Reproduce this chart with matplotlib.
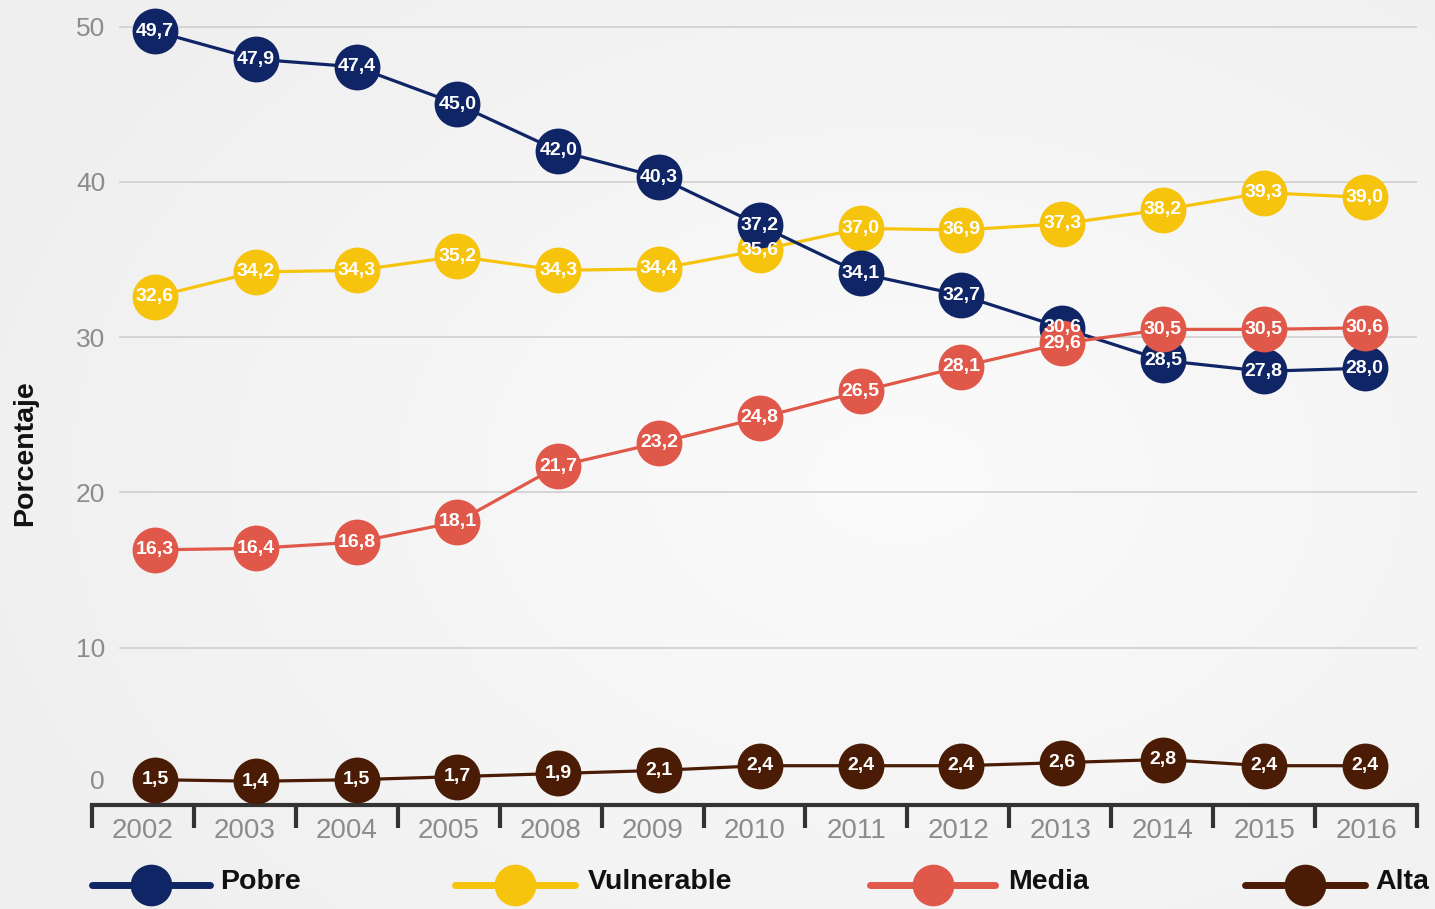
import numpy as np
import matplotlib
matplotlib.use('Agg')
import matplotlib.pyplot as plt
from matplotlib.lines import Line2D
from matplotlib.colors import LinearSegmentedColormap

# Data
years = ['2002', '2003', '2004', '2005', '2008', '2009', '2010',
         '2011', '2012', '2013', '2014', '2015', '2016']
pobre = [49.7, 47.9, 47.4, 45.0, 42.0, 40.3, 37.2, 34.1, 32.7, 30.6, 28.5, 27.8, 28.0]
vulnerable = [32.6, 34.2, 34.3, 35.2, 34.3, 34.4, 35.6, 37.0, 36.9, 37.3, 38.2, 39.3, 39.0]
media = [16.3, 16.4, 16.8, 18.1, 21.7, 23.2, 24.8, 26.5, 28.1, 29.6, 30.5, 30.5, 30.6]
alta = [1.5, 1.4, 1.5, 1.7, 1.9, 2.1, 2.4, 2.4, 2.4, 2.6, 2.8, 2.4, 2.4]
series_names = ['Pobre', 'Vulnerable', 'Media', 'Alta']
colors = ['#0f2566', '#f6c30d', '#e0584a', '#4a1c05']
yticks = [10, 20, 30, 40, 50]

W, H = 1435, 909
fig = plt.figure(figsize=(W / 100, H / 100), dpi=100)

# background with soft radial light
bg = fig.add_axes([0, 0, 1, 1])
yy, xx = np.mgrid[0:H, 0:W]
r = np.sqrt(((xx - 900) / 1000.0) ** 2 + ((yy - 480) / 700.0) ** 2)
cmap = LinearSegmentedColormap.from_list('bg', ['#fbfbfb', '#efefef'])
bg.imshow(np.clip(r, 0, 1), cmap=cmap, vmin=0, vmax=1,
          extent=[0, W, H, 0], aspect='auto')
bg.set_xlim(0, W)
bg.set_ylim(H, 0)
bg.axis('off')

# main axes
x0, x1 = 92, 1417
ytop, ybot = 0, 805
ax = fig.add_axes([x0 / W, 1 - ybot / H, (x1 - x0) / W, (ybot - ytop) / H])
ax.patch.set_alpha(0)
xl, xr = -0.625, 12.52
ax.set_xlim(xl, xr)
ax.set_ylim(-0.13, 51.71)

xs = np.arange(len(years))
label_font = ['Liberation Sans', 'DejaVu Sans']

# drawing order: alta, vulnerable, pobre, media
order = [(alta, colors[3]), (vulnerable, colors[1]), (pobre, colors[0]), (media, colors[2])]
for z, (vals, c) in enumerate(order):
    ax.plot(xs, vals, color=c, lw=2.3, marker='o', markersize=33,
            markeredgewidth=0, clip_on=False, zorder=3 + z)
for vals, c in order:
    for xi, v in zip(xs, vals):
        ax.text(xi, v, f'{v:.1f}'.replace('.', ','), ha='center', va='center',
                color='white', fontsize=14, fontweight='bold',
                family=label_font, zorder=10, clip_on=False)

# gridlines
gx0 = (120 - x0) / (x1 - x0)
for gy in yticks:
    ax.axhline(gy, xmin=gx0, xmax=1, color='#cfcfcf', lw=1.2, zorder=1)

for s in ax.spines.values():
    s.set_visible(False)
ax.set_yticks(yticks)
ax.set_yticklabels([str(t) for t in yticks])
ax.tick_params(axis='y', length=0, pad=-9.5, labelsize=19, labelcolor='#8c8c8c')
for lab in ax.get_yticklabels():
    lab.set_family('Liberation Sans')
ax.set_xticks([])
# the zero label sits a little above the axis line
fig.text(105 / W, 1 - 782 / H, '0', ha='right', va='center', fontsize=19,
         color='#8c8c8c', family='Liberation Sans')

# x axis with separators
ax.plot([xl, xr], [-0.13, -0.13], color='#333333', lw=3, clip_on=False, zorder=2)
bounds = np.linspace(xl, xr, len(years) + 1)
for b in bounds:
    ax.plot([b, b], [-0.13, -1.6], color='#333333', lw=3, clip_on=False,
            solid_capstyle='butt', zorder=2)
for i, yr in enumerate(years):
    ax.text((bounds[i] + bounds[i + 1]) / 2, -1.78, yr, ha='center', va='center',
            fontsize=20, color='#8c8c8c', family='Liberation Sans')

fig.text(25 / W, 1 - 453 / H, 'Porcentaje', rotation=90, ha='center', va='center',
         fontsize=20.5, fontweight='bold', color='#111111', family='Liberation Sans')

# legend drawn in pixel space
leg_y = 885
leg_pos = [(92, 210, 220), (455, 575, 588), (870, 995, 1008), (1245, 1365, 1375)]
for (la, lb, tx), name, c in zip(leg_pos, series_names, colors):
    bg.add_line(Line2D([la, lb], [leg_y, leg_y], color=c, lw=5,
                       solid_capstyle='round', zorder=5))
    bg.add_line(Line2D([(la + lb) / 2], [leg_y], color=c, marker='o',
                       markersize=30, markeredgewidth=0, zorder=6))
    bg.text(tx, leg_y - 3, name, ha='left', va='center', fontsize=20.5,
            fontweight='bold', color='#111111', family='Liberation Sans', zorder=6)

fig.savefig('out.png', dpi=100)
